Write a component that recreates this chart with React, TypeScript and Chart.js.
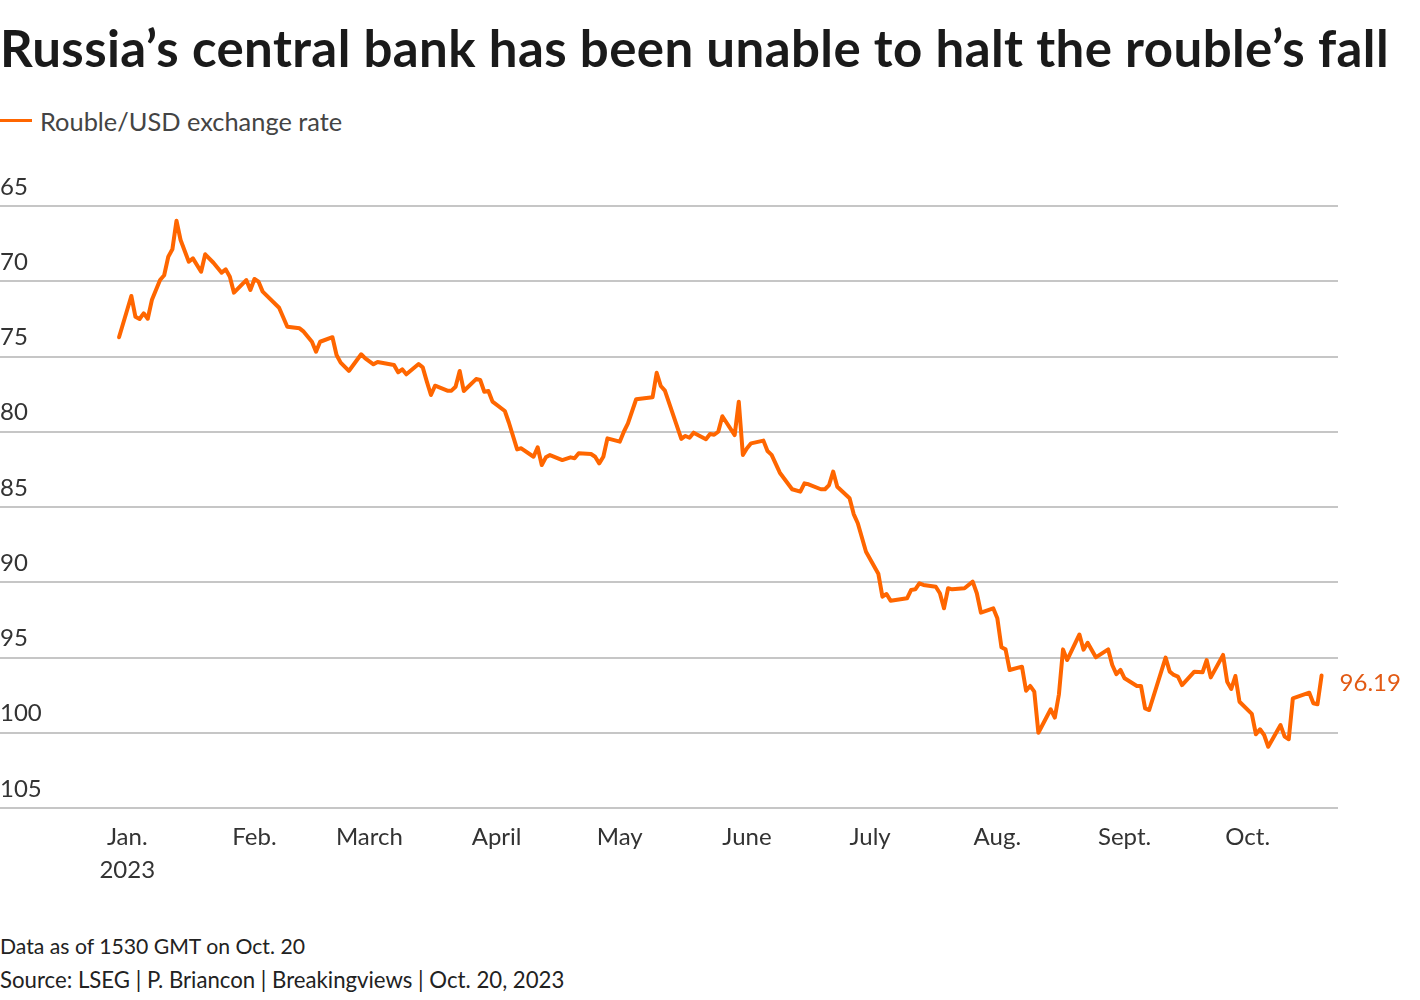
import React, { useEffect, useRef } from "react";
import { Chart, registerables } from "chart.js";

Chart.register(...registerables);

const FONT = "Lato, 'Open Sans', sans-serif";

// Days since 1 Jan 2023 for each observation
const dayIndex = [
  -2, 1, 2, 3, 4, 5, 6, 8, 9, 10,
  11, 12, 13, 15, 16, 18, 19, 21, 23, 24,
  25, 26, 29, 30, 31, 32, 33, 37, 39, 42,
  43, 45, 46, 47, 50, 51, 52, 54, 57, 58,
  60, 61, 65, 66, 67, 68, 71, 72, 73, 74,
  75, 78, 79, 80, 81, 82, 85, 86, 87, 88,
  89, 92, 93, 95, 96, 99, 100, 101, 102, 103,
  106, 108, 109, 110, 113, 114, 115, 116, 117, 120,
  121, 122, 124, 128, 129, 130, 131, 135, 136, 137,
  138, 141, 142, 143, 144, 145, 148, 149, 150, 151,
  152, 155, 156, 157, 159, 162, 164, 165, 166, 169,
  170, 171, 172, 173, 176, 177, 178, 180, 183, 184,
  185, 186, 190, 191, 192, 193, 194, 197, 198, 199,
  200, 201, 204, 206, 207, 208, 211, 212, 213, 214,
  215, 218, 219, 220, 221, 222, 225, 226, 227, 228,
  229, 232, 233, 234, 236, 239, 240, 241, 242, 243,
  246, 247, 248, 249, 253, 254, 255, 256, 257, 260,
  262, 263, 264, 267, 268, 269, 270, 271, 274, 275,
  276, 277, 278, 281, 282, 283, 284, 288, 289, 290,
  291,
];

// Roubles per US dollar
const rubPerUsd = [
  73.72, 70.98, 72.36, 72.51, 72.13, 72.49, 71.25, 69.92, 69.6, 68.37,
  67.88, 65.98, 67.26, 68.7, 68.48, 69.37, 68.21, 68.77, 69.43, 69.21,
  69.7, 70.76, 69.92, 70.58, 69.85, 70.03, 70.69, 71.76, 73.02, 73.13,
  73.35, 74.02, 74.68, 74.02, 73.72, 74.9, 75.41, 75.96, 74.85, 75.12,
  75.52, 75.37, 75.56, 76.05, 75.85, 76.18, 75.5, 75.72, 76.67, 77.56,
  76.94, 77.27, 77.27, 77.01, 75.96, 77.29, 76.5, 76.56, 77.34, 77.29,
  78.0, 78.62, 79.4, 81.17, 81.1, 81.66, 81.03, 82.21, 81.7, 81.55,
  81.88, 81.7, 81.76, 81.43, 81.48, 81.66, 82.1, 81.66, 80.44, 80.66,
  80.0, 79.44, 77.84, 77.71, 76.08, 76.96, 77.27, 80.48, 80.28, 80.4,
  80.06, 80.5, 80.15, 80.2, 80.0, 78.97, 80.22, 78.0, 81.54, 81.1,
  80.77, 80.59, 81.28, 81.54, 82.72, 83.82, 83.98, 83.43, 83.49, 83.82,
  83.82, 83.54, 82.65, 83.65, 84.42, 85.47, 86.08, 87.97, 89.43, 90.96,
  90.78, 91.23, 91.07, 90.51, 90.47, 90.07, 90.18, 90.3, 90.73, 91.73,
  90.4, 90.47, 90.4, 89.96, 90.73, 92.02, 91.73, 92.4, 94.32, 94.46,
  95.83, 95.61, 97.21, 96.89, 97.27, 100.0, 98.44, 98.99, 97.46, 94.46,
  95.17, 93.47, 94.48, 94.02, 94.99, 94.46, 95.5, 96.1, 95.83, 96.38,
  96.89, 96.89, 98.38, 98.49, 95.01, 95.94, 96.16, 96.27, 96.83, 95.94,
  95.98, 95.17, 96.32, 94.83, 96.61, 97.09, 96.23, 97.94, 98.75, 100.1,
  99.77, 100.15, 100.93, 99.49, 100.26, 100.43, 97.71, 97.34, 98.04, 98.11,
  96.19,
];

const monthTicks = [0, 31, 59, 90, 120, 151, 181, 212, 243, 273];
const monthLabels: (string | string[])[] = [
  ["Jan.", "2023"], "Feb.", "March", "April", "May", "June", "July", "Aug.", "Sept.", "Oct.",
];
const yTicks = [65, 70, 75, 80, 85, 90, 95, 100, 105];
const lastValueLabel = "96.19";

const title = "Russia’s central bank has been unable to halt the rouble’s fall";
const legendLabel = "Rouble/USD exchange rate";
const note = "Data as of 1530 GMT on Oct. 20";
const source = "Source: LSEG | P. Briancon | Breakingviews | Oct. 20, 2023";

const LINE_COLOR = "#ff6600";

const lastLabelPlugin = {
  id: "lastLabel",
  afterDatasetsDraw(chart: any) {
    const meta = chart.getDatasetMeta(0);
    const pt = meta.data[meta.data.length - 1];
    if (!pt) return;
    const ctx = chart.ctx;
    ctx.save();
    ctx.font = `24px ${FONT}`;
    ctx.fillStyle = "#e25a14";
    ctx.textAlign = "left";
    ctx.textBaseline = "middle";
    ctx.fillText(lastValueLabel, pt.x + 18, pt.y + 8);
    ctx.restore();
  },
};

export default function App() {
  const ref = useRef<HTMLCanvasElement | null>(null);

  useEffect(() => {
    if (!ref.current) return;
    const chart = new Chart(ref.current, {
      type: "line",
      data: {
        datasets: [
          {
            data: dayIndex.map((d, i) => ({ x: d, y: rubPerUsd[i] })),
            borderColor: LINE_COLOR,
            borderWidth: 4,
            pointRadius: 0,
            tension: 0,
            borderJoinStyle: "round",
            borderCapStyle: "round",
          },
        ],
      },
      options: {
        animation: false,
        responsive: false,
        maintainAspectRatio: false,
        layout: { padding: { left: 0, right: 82, top: 56, bottom: 12 } },
        plugins: { legend: { display: false }, tooltip: { enabled: false } },
        scales: {
          x: {
            type: "linear",
            min: -31,
            max: 295,
            grid: { display: false, drawTicks: false },
            border: { display: false },
            afterBuildTicks: (s: any) => {
              s.ticks = monthTicks.map((v) => ({ value: v }));
            },
            afterFit: (s: any) => {
              s.height = 80;
            },
            ticks: {
              autoSkip: false,
              maxRotation: 0,
              padding: 12,
              color: "#333",
              font: { family: FONT, size: 24, lineHeight: 1.4 },
              callback: (v: any) => {
                const i = monthTicks.indexOf(Number(v));
                return i >= 0 ? monthLabels[i] : "";
              },
            },
          },
          y: {
            reverse: true,
            min: 65,
            max: 105,
            afterBuildTicks: (s: any) => {
              s.ticks = yTicks.map((v) => ({ value: v }));
            },
            afterFit: (s: any) => {
              s.width = 0;
            },
            grid: { color: "#c6c6c6", lineWidth: 2, drawTicks: false },
            border: { display: false },
            ticks: {
              mirror: true,
              padding: 0,
              labelOffset: -19,
              color: "#333",
              font: { family: FONT, size: 24 },
            },
          },
        },
      },
      plugins: [lastLabelPlugin],
    } as any);
    return () => chart.destroy();
  }, []);

  return (
    <div
      style={{
        position: "absolute",
        left: 0,
        top: 0,
        width: 1420,
        height: 1000,
        background: "#fff",
        fontFamily: FONT,
        overflow: "hidden",
      }}
    >
      <div
        style={{
          position: "absolute",
          left: 0,
          top: 20,
          fontSize: 51,
          fontWeight: 700,
          letterSpacing: "0.4px",
          lineHeight: "56px",
          color: "#1a1a1a",
          whiteSpace: "nowrap",
        }}
      >
        {title}
      </div>
      <div
        style={{
          position: "absolute",
          left: 0,
          top: 119,
          width: 32,
          height: 3,
          background: LINE_COLOR,
        }}
      />
      <div
        style={{
          position: "absolute",
          left: 40,
          top: 105,
          fontSize: 25.4,
          lineHeight: "32px",
          color: "#444",
          whiteSpace: "nowrap",
        }}
      >
        {legendLabel}
      </div>
      <canvas
        ref={ref}
        width={1420}
        height={750}
        style={{ position: "absolute", left: 0, top: 150, width: 1420, height: 750 }}
      />
      <div
        style={{
          position: "absolute",
          left: 0,
          top: 932,
          fontSize: 21.2,
          lineHeight: "28px",
          color: "#222",
          whiteSpace: "nowrap",
        }}
      >
        {note}
      </div>
      <div
        style={{
          position: "absolute",
          left: 0,
          top: 966,
          fontSize: 22.2,
          lineHeight: "28px",
          color: "#222",
          whiteSpace: "nowrap",
        }}
      >
        {source}
      </div>
    </div>
  );
}
